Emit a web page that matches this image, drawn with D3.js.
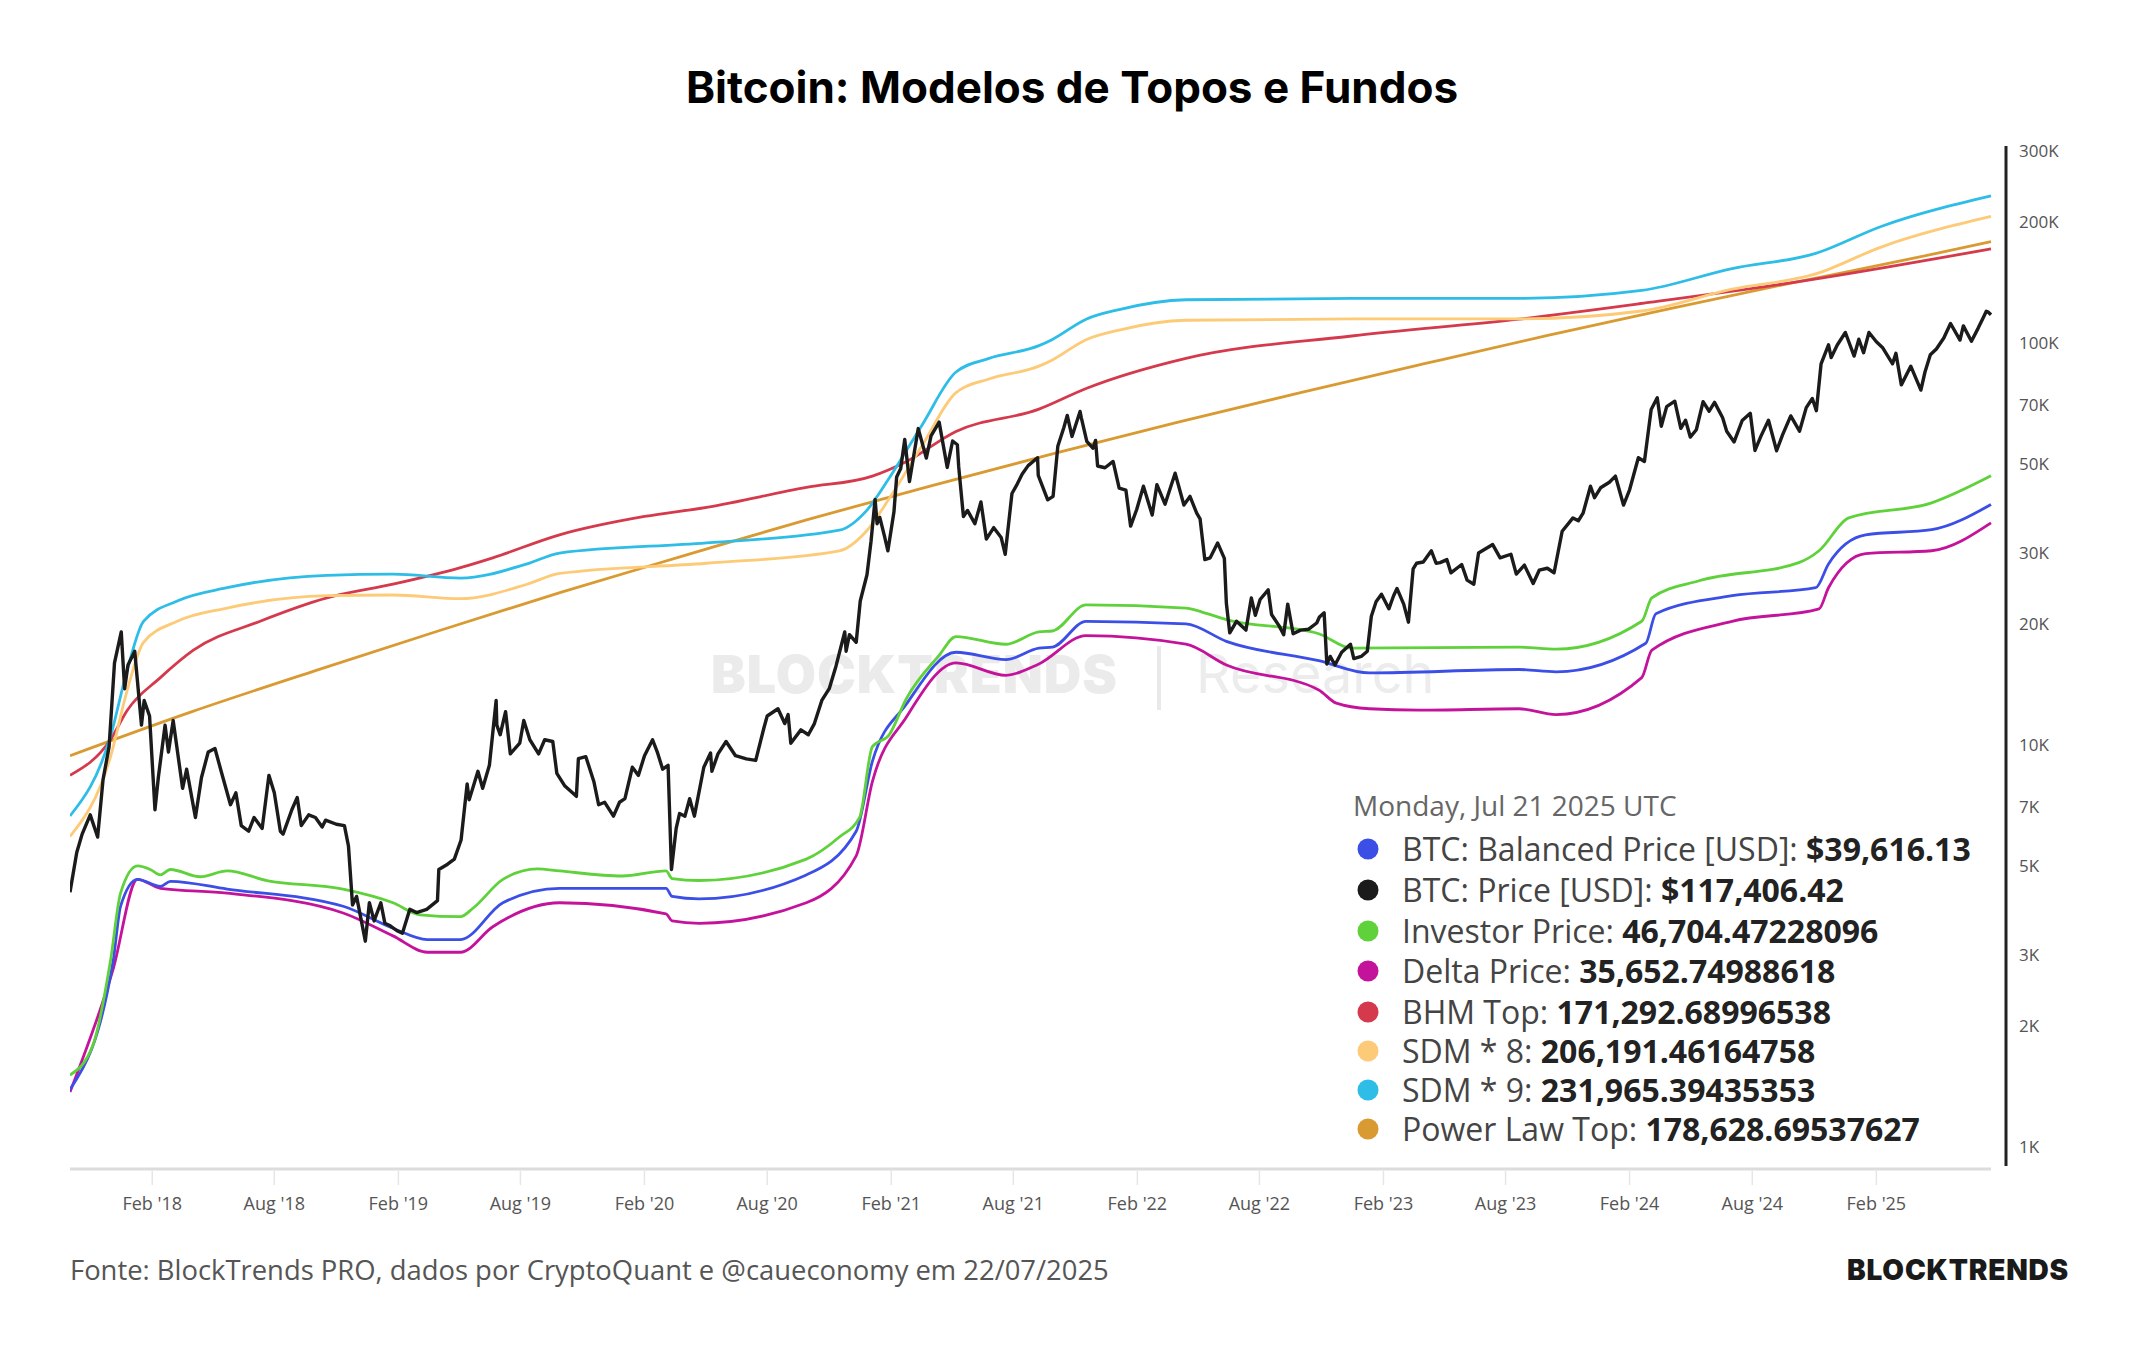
<!DOCTYPE html>
<html>
<head>
<meta charset="utf-8">
<script src="https://cdn.jsdelivr.net/npm/d3@7"></script>
<style>
  html, body { margin: 0; padding: 0; background: #fff; }
  svg { display: block; }
</style>
</head>
<body>
<div id="chart"></div>
<script>
const width = 2144;
const height = 1350;

// plot frame
const plot = { left: 70, right: 1991, top: 146, bottom: 1169 };

// ---- data ----
const startDate = "2017-10-02";
const endDate = "2025-07-21";

const xTickDates = ["2018-02-01", "2018-08-01", "2019-02-01", "2019-08-01", "2020-02-01", "2020-08-01",
  "2021-02-01", "2021-08-01", "2022-02-01", "2022-08-01", "2023-02-01", "2023-08-01",
  "2024-02-01", "2024-08-01", "2025-02-01"];
const yTicks = [1000, 2000, 3000, 5000, 7000, 10000, 20000, 30000, 50000, 70000, 100000, 200000, 300000];

const btcPrice = [
  ["2017-10-02",4300],["2017-10-12",5400],["2017-10-20",6000],["2017-11-01",6700],["2017-11-12",5900],["2017-11-20",8200],
  ["2017-11-29",9900],["2017-12-07",16000],["2017-12-17",19100],["2017-12-22",13800],["2017-12-27",15800],["2018-01-06",17100],
  ["2018-01-16",11200],["2018-01-20",12900],["2018-01-28",11800],["2018-02-05",6900],["2018-02-10",8300],["2018-02-20",11200],
  ["2018-02-25",9600],["2018-03-04",11500],["2018-03-18",7800],["2018-03-24",8700],["2018-04-06",6600],["2018-04-15",8300],
  ["2018-04-25",9600],["2018-05-05",9800],["2018-05-15",8500],["2018-05-28",7100],["2018-06-05",7600],["2018-06-13",6300],
  ["2018-06-24",6100],["2018-07-02",6600],["2018-07-14",6200],["2018-07-24",8400],["2018-08-01",7600],["2018-08-10",6100],
  ["2018-08-14",6000],["2018-08-27",6900],["2018-09-04",7400],["2018-09-10",6300],["2018-09-21",6700],["2018-10-01",6600],
  ["2018-10-11",6250],["2018-10-16",6500],["2018-11-01",6350],["2018-11-13",6300],["2018-11-19",5600],["2018-11-25",4000],
  ["2018-12-01",4200],["2018-12-14",3250],["2018-12-20",4050],["2018-12-27",3650],["2019-01-06",4050],["2019-01-12",3600],
  ["2019-01-20",3550],["2019-01-30",3450],["2019-02-07",3400],["2019-02-18",3900],["2019-02-28",3830],["2019-03-15",3900],
  ["2019-03-31",4100],["2019-04-02",4900],["2019-04-15",5050],["2019-04-25",5200],["2019-05-05",5800],["2019-05-14",8000],
  ["2019-05-17",7300],["2019-05-30",8600],["2019-06-06",7800],["2019-06-16",8900],["2019-06-26",12900],["2019-06-27",11200],
  ["2019-07-02",10600],["2019-07-10",12100],["2019-07-17",9500],["2019-07-31",10100],["2019-08-06",11500],["2019-08-15",10300],
  ["2019-08-28",9500],["2019-09-06",10300],["2019-09-18",10200],["2019-09-24",8500],["2019-10-06",7900],["2019-10-23",7450],
  ["2019-10-26",9250],["2019-11-06",9350],["2019-11-18",8100],["2019-11-25",7100],["2019-12-04",7200],["2019-12-17",6650],
  ["2019-12-26",7200],["2020-01-03",7350],["2020-01-14",8800],["2020-01-23",8400],["2020-02-01",9400],["2020-02-13",10300],
  ["2020-02-20",9600],["2020-02-28",8700],["2020-03-07",8900],["2020-03-12",4900],["2020-03-19",6200],["2020-03-24",6750],
  ["2020-04-01",6650],["2020-04-08",7350],["2020-04-15",6650],["2020-04-29",8800],["2020-05-09",9550],["2020-05-11",8600],
  ["2020-05-20",9500],["2020-06-01",10200],["2020-06-15",9400],["2020-07-01",9230],["2020-07-15",9150],["2020-07-27",11000],
  ["2020-08-01",11800],["2020-08-17",12300],["2020-08-27",11300],["2020-09-01",11900],["2020-09-05",10100],["2020-09-20",10900],
  ["2020-10-01",10600],["2020-10-10",11300],["2020-10-21",12900],["2020-11-01",13800],["2020-11-11",15700],["2020-11-24",19100],
  ["2020-11-26",17100],["2020-12-01",18800],["2020-12-11",18000],["2020-12-17",22800],["2020-12-27",26500],["2021-01-02",32100],
  ["2021-01-08",40800],["2021-01-11",35500],["2021-01-15",36800],["2021-01-22",33000],["2021-01-27",30400],["2021-02-05",38000],
  ["2021-02-09",46400],["2021-02-15",48700],["2021-02-21",57500],["2021-02-28",45200],["2021-03-13",61200],["2021-03-25",51700],
  ["2021-04-01",58700],["2021-04-13",63500],["2021-04-25",49000],["2021-05-03",57000],["2021-05-10",55800],["2021-05-12",49200],
  ["2021-05-19",37000],["2021-05-25",38300],["2021-06-05",35500],["2021-06-14",40200],["2021-06-22",32500],["2021-07-03",34700],
  ["2021-07-14",32800],["2021-07-20",29800],["2021-07-30",42200],["2021-08-07",44600],["2021-08-14",47100],["2021-08-23",49500],
  ["2021-09-06",51800],["2021-09-07",46800],["2021-09-21",40700],["2021-09-29",41500],["2021-10-06",55300],["2021-10-15",61600],
  ["2021-10-20",66000],["2021-10-27",58500],["2021-11-08",67500],["2021-11-10",65000],["2021-11-18",56900],["2021-11-27",54700],
  ["2021-12-01",57200],["2021-12-04",49400],["2021-12-15",48900],["2021-12-27",50700],["2022-01-05",43500],["2022-01-15",43000],
  ["2022-01-22",35000],["2022-01-31",38500],["2022-02-10",44000],["2022-02-23",37300],["2022-03-02",44400],["2022-03-14",39700],
  ["2022-03-29",47400],["2022-04-11",39500],["2022-04-20",41500],["2022-04-30",37700],["2022-05-05",36500],["2022-05-12",28900],
  ["2022-05-20",29200],["2022-05-31",31800],["2022-06-10",29100],["2022-06-13",22500],["2022-06-18",19000],["2022-06-28",20300],
  ["2022-07-12",19300],["2022-07-20",23200],["2022-07-26",21000],["2022-08-02",23000],["2022-08-14",24300],["2022-08-19",21100],
  ["2022-08-30",19800],["2022-09-06",18800],["2022-09-12",22400],["2022-09-20",18900],["2022-10-01",19300],["2022-10-13",19400],
  ["2022-10-25",20100],["2022-10-29",20800],["2022-11-05",21300],["2022-11-09",15900],["2022-11-14",16600],["2022-11-21",15800],
  ["2022-12-01",17000],["2022-12-14",17800],["2022-12-19",16400],["2022-12-30",16600],["2023-01-08",17100],["2023-01-14",20900],
  ["2023-01-21",22700],["2023-01-29",23700],["2023-02-09",21800],["2023-02-16",23500],["2023-02-21",24500],["2023-03-03",22400],
  ["2023-03-10",20200],["2023-03-17",27400],["2023-03-22",28300],["2023-04-01",28500],["2023-04-13",30400],["2023-04-20",28300],
  ["2023-04-26",28400],["2023-05-06",28900],["2023-05-12",26800],["2023-05-28",28100],["2023-06-05",25700],["2023-06-15",25100],
  ["2023-06-22",30000],["2023-07-13",31500],["2023-07-24",29200],["2023-08-09",29800],["2023-08-17",26600],["2023-08-29",28000],
  ["2023-09-11",25200],["2023-09-20",27200],["2023-10-02",27500],["2023-10-12",26800],["2023-10-24",34000],["2023-11-09",36700],
  ["2023-11-17",36100],["2023-11-24",37700],["2023-12-05",44000],["2023-12-11",41200],["2023-12-20",43600],["2024-01-02",45000],
  ["2024-01-11",46600],["2024-01-23",39500],["2024-02-01",43100],["2024-02-14",51800],["2024-02-23",50700],["2024-03-04",68300],
  ["2024-03-13",73000],["2024-03-19",62000],["2024-03-27",69400],["2024-04-08",71600],["2024-04-17",61300],["2024-04-24",64200],
  ["2024-05-01",58300],["2024-05-10",60800],["2024-05-20",71400],["2024-05-29",67600],["2024-06-06",71100],["2024-06-18",65100],
  ["2024-06-24",60300],["2024-07-05",56700],["2024-07-17",64100],["2024-07-29",66800],["2024-08-05",54000],["2024-08-14",58700],
  ["2024-08-25",64200],["2024-09-06",53900],["2024-09-15",59100],["2024-09-27",65800],["2024-10-10",60300],["2024-10-20",69000],
  ["2024-10-29",72700],["2024-11-04",67800],["2024-11-11",88700],["2024-11-22",98900],["2024-11-26",91900],["2024-12-05",98800],
  ["2024-12-17",106100],["2024-12-30",92700],["2025-01-06",102100],["2025-01-13",94500],["2025-01-21",106100],["2025-02-01",100600],
  ["2025-02-10",97400],["2025-02-25",88700],["2025-03-02",94200],["2025-03-10",78600],["2025-03-24",87500],["2025-04-08",76300],
  ["2025-04-14",84500],["2025-04-22",93400],["2025-05-01",96500],["2025-05-12",102800],["2025-05-22",111700],["2025-06-05",101600],
  ["2025-06-10",110200],["2025-06-22",100900],["2025-07-02",108800],["2025-07-10",116000],["2025-07-14",119800],["2025-07-17",119200],
  ["2025-07-21",117400]
];

const investorPrice = [
  ["2017-10-02",1510],["2017-11-05",1790],["2017-12-01",2900],["2017-12-16",4280],["2018-01-10",5000],["2018-01-29",4900],
  ["2018-02-13",4750],["2018-02-28",4900],["2018-04-13",4700],["2018-05-23",4860],["2018-07-21",4600],["2018-11-11",4380],
  ["2019-01-24",4050],["2019-03-05",3780],["2019-05-04",3740],["2019-05-23",3930],["2019-07-06",4630],["2019-08-26",4920],
  ["2019-09-28",4860],["2019-12-30",4720],["2020-03-04",4860],["2020-03-13",4650],["2020-04-22",4600],["2020-09-28",5200],
  ["2020-11-16",5900],["2020-12-16",6600],["2021-01-04",9900],["2021-01-29",10600],["2021-02-23",13000],["2021-04-13",16700],
  ["2021-05-08",18600],["2021-07-21",17800],["2021-09-08",19100],["2021-09-28",19200],["2021-11-17",22300],["2022-04-14",21900],
  ["2022-05-08",21400],["2022-06-13",20500],["2022-10-28",18900],["2022-12-16",17400],["2023-08-21",17500],["2023-10-15",17300],
  ["2024-02-19",20300],["2024-03-05",23200],["2024-05-14",25600],["2024-10-09",28400],["2024-11-08",30400],["2024-12-22",36700],
  ["2025-04-24",40000],["2025-07-21",46704]
];

const balancedPrice = [
  ["2017-10-02",1390],["2017-12-05",2900],["2017-12-16",3970],["2018-01-10",4630],["2018-02-13",4450],["2018-02-28",4580],
  ["2018-05-23",4380],["2018-11-11",3970],["2019-01-24",3500],["2019-03-16",3280],["2019-05-04",3280],["2019-07-06",4050],
  ["2019-09-28",4400],["2020-03-04",4400],["2020-03-13",4200],["2020-04-22",4140],["2020-09-28",4750],["2020-12-11",6100],
  ["2021-01-04",9100],["2021-02-23",12600],["2021-05-08",17000],["2021-07-21",16300],["2021-09-08",17400],["2021-09-28",17500],
  ["2021-11-17",20300],["2022-04-14",20000],["2022-06-13",18100],["2022-10-28",16200],["2023-01-11",15100],["2023-08-21",15400],
  ["2023-10-15",15200],["2024-02-25",17900],["2024-03-11",21200],["2024-07-02",23500],["2024-11-03",24600],["2024-11-22",28200],
  ["2025-01-16",33300],["2025-04-24",34300],["2025-07-21",39616]
];

const deltaPrice = [
  ["2017-10-02",1370],["2017-12-05",2770],["2018-01-10",4630],["2018-02-13",4400],["2018-05-23",4280],["2018-11-11",3820],
  ["2019-01-24",3350],["2019-03-16",3050],["2019-05-04",3050],["2019-06-21",3530],["2019-09-28",4050],["2020-03-04",3800],
  ["2020-03-13",3650],["2020-04-22",3600],["2020-09-28",4050],["2020-12-11",5300],["2021-01-04",8100],["2021-02-23",11700],
  ["2021-05-08",16000],["2021-07-21",14900],["2021-09-08",15900],["2021-11-17",18700],["2022-04-14",17800],["2022-06-13",15800],
  ["2022-10-28",13700],["2022-11-23",12700],["2023-01-11",12300],["2023-03-26",12200],["2023-08-21",12300],["2023-10-15",11900],
  ["2024-02-19",14700],["2024-03-05",17200],["2024-07-02",20300],["2024-11-08",21800],["2024-11-22",24600],["2025-01-16",29900],
  ["2025-04-24",30400],["2025-07-21",35653]
];

const bhmTop = [
  ["2017-10-02",8400],["2017-12-01",10300],["2017-12-26",12200],["2018-02-13",14700],["2018-04-03",17200],["2018-07-11",20300],
  ["2018-10-18",23200],["2019-01-24",25100],["2019-05-04",27600],["2019-06-21",29200],["2019-09-28",33300],["2020-02-01",37000],
  ["2020-05-03",39000],["2020-09-28",43700],["2021-01-04",46600],["2021-02-23",50600],["2021-05-08",60200],["2021-09-08",68400],
  ["2021-11-17",77000],["2022-04-14",91500],["2022-12-16",104000],["2023-08-21",114500],["2024-03-01",126000],["2024-10-09",142000],
  ["2025-07-21",171293]
];

const sdm8 = [
  ["2017-10-02",5920],["2017-12-01",9330],["2017-12-26",13700],["2018-01-19",18000],["2018-03-10",20300],["2018-05-23",21900],
  ["2018-10-18",23500],["2019-01-24",23600],["2019-05-04",23100],["2019-08-11",25100],["2019-09-28",26700],["2020-05-03",28300],
  ["2020-11-16",30400],["2020-12-26",34000],["2021-01-29",41000],["2021-03-19",55600],["2021-05-08",75200],["2021-06-26",81300],
  ["2021-09-08",87500],["2021-09-28",90700],["2021-11-17",101800],["2022-01-05",107600],["2022-04-14",113800],["2022-12-16",114700],
  ["2023-08-21",114700],["2024-02-19",120000],["2024-07-02",136000],["2024-11-03",148400],["2025-02-09",173300],["2025-07-21",206191]
];

const sdm9 = [
  ["2017-10-02",6660],["2017-12-01",10500],["2017-12-26",15400],["2018-01-19",20300],["2018-03-10",22800],["2018-05-23",24600],
  ["2018-10-18",26400],["2019-01-24",26600],["2019-05-04",26000],["2019-08-11",28200],["2019-09-28",30000],["2020-05-03",31800],
  ["2020-11-16",34200],["2020-12-26",38200],["2021-01-29",46100],["2021-03-19",62600],["2021-05-08",84600],["2021-06-26",91500],
  ["2021-09-08",98400],["2021-09-28",102000],["2021-11-17",114500],["2022-01-05",121000],["2022-04-14",128000],["2022-12-16",129000],
  ["2023-08-21",129000],["2024-02-19",135000],["2024-07-02",153000],["2024-11-03",167000],["2025-02-09",195000],["2025-07-21",231965]
];

const powerLawTop = [
  ["2017-10-02",9400],["2018-04-01",12100],["2018-10-01",15300],["2019-04-01",19200],["2019-10-01",24000],["2020-04-01",29600],
  ["2020-10-01",36400],["2021-04-01",44100],["2021-10-01",53100],["2022-04-01",63400],["2022-10-01",75200],["2023-04-01",88600],
  ["2023-10-01",104200],["2024-04-01",121600],["2024-10-01",141200],["2025-04-01",162800],["2025-07-21",178629]
];

// legend text
const legendDate = "Monday, Jul 21 2025 UTC";
const legendNames = ["BTC: Balanced Price [USD]: ", "BTC: Price [USD]: ", "Investor Price: ", "Delta Price: ",
  "BHM Top: ", "SDM * 8: ", "SDM * 9: ", "Power Law Top: "];
const legendValues = ["$39,616.13", "$117,406.42", "46,704.47228096", "35,652.74988618",
  "171,292.68996538", "206,191.46164758", "231,965.39435353", "178,628.69537627"];
const legendColors = ["#3b4ee6", "#1b1b1b", "#5fd13b", "#c4139b", "#d43a4c", "#fdca77", "#2dbde6", "#d99a32"];

// ---- scales ----
const parse = d3.utcParse("%Y-%m-%d");
const x = d3.scaleUtc()
  .domain([parse(startDate), parse(endDate)])
  .range([plot.left, plot.right]);
const y = d3.scaleLog()
  .domain([1000, 300000])
  .range([1147, 151]);

const svg = d3.select("#chart").append("svg")
  .attr("width", width)
  .attr("height", height)
  .style("font-family", "'Open Sans', sans-serif");

svg.append("rect").attr("width", width).attr("height", height).attr("fill", "#fff");

// title
svg.append("text")
  .attr("x", 1072)
  .attr("y", 103)
  .attr("text-anchor", "middle")
  .style("font-family", "Inter, sans-serif")
  .style("font-weight", 700)
  .style("font-size", "44px")
  .attr("fill", "#000")
  .text("Bitcoin: Modelos de Topos e Fundos");

// watermark
const wm = svg.append("g").attr("id", "watermark");
wm.append("text")
  .attr("x", 711).attr("y", 693)
  .style("font-family", "Inter, sans-serif")
  .style("font-weight", 900)
  .style("font-size", "52px")
  .style("letter-spacing", "1px")
  .attr("fill", "#ebebeb")
  .text("BLOCKTRENDS");
wm.append("rect")
  .attr("x", 1157).attr("y", 646).attr("width", 4).attr("height", 64)
  .attr("fill", "#e9e9e9");
wm.append("text")
  .attr("x", 1196).attr("y", 693)
  .style("font-family", "Inter, sans-serif")
  .style("font-weight", 400)
  .style("font-size", "54px")
  .attr("fill", "#ececec")
  .text("Research");

// x axis
const xAxis = svg.append("g").attr("id", "x-axis");
xAxis.append("line")
  .attr("x1", plot.left).attr("x2", plot.right)
  .attr("y1", plot.bottom).attr("y2", plot.bottom)
  .attr("stroke", "#dcdcdc").attr("stroke-width", 3);
const fmtX = d3.utcFormat("%b '%y");
xAxis.selectAll(".tick")
  .data(xTickDates.map(parse))
  .join("g")
  .attr("class", "tick")
  .each(function (d) {
    const g = d3.select(this);
    g.append("line")
      .attr("x1", x(d)).attr("x2", x(d))
      .attr("y1", plot.bottom + 2).attr("y2", plot.bottom + 16)
      .attr("stroke", "#e6e6e6").attr("stroke-width", 1.5);
    g.append("text")
      .attr("x", x(d)).attr("y", 1210)
      .attr("text-anchor", "middle")
      .style("font-size", "18px")
      .attr("fill", "#555")
      .text(fmtX(d));
  });

// y axis (right)
const yAxis = svg.append("g").attr("id", "y-axis");
yAxis.append("line")
  .attr("x1", 2006).attr("x2", 2006)
  .attr("y1", 146).attr("y2", 1166)
  .attr("stroke", "#222").attr("stroke-width", 3);
yAxis.selectAll("text")
  .data(yTicks)
  .join("text")
  .attr("x", 2019)
  .attr("y", d => y(d))
  .attr("dy", "0.35em")
  .style("font-size", "17px")
  .attr("fill", "#555")
  .text(d => (d / 1000) + "K");

// lines
svg.append("clipPath").attr("id", "plot-clip")
  .append("rect")
  .attr("x", plot.left).attr("y", plot.top)
  .attr("width", plot.right - plot.left + 2)
  .attr("height", plot.bottom - plot.top - 2);

const lines = svg.append("g").attr("clip-path", "url(#plot-clip)");

const smooth = d3.line()
  .x(d => x(parse(d[0])))
  .y(d => y(d[1]))
  .curve(d3.curveMonotoneX);
const jagged = d3.line()
  .x(d => x(parse(d[0])))
  .y(d => y(d[1]));

const smoothSeries = [
  { data: powerLawTop, color: legendColors[7] },
  { data: bhmTop, color: legendColors[4] },
  { data: sdm8, color: legendColors[5] },
  { data: sdm9, color: legendColors[6] },
  { data: deltaPrice, color: legendColors[3] },
  { data: balancedPrice, color: legendColors[0] },
  { data: investorPrice, color: legendColors[2] }
];

lines.selectAll(".model")
  .data(smoothSeries)
  .join("path")
  .attr("class", "model")
  .attr("d", d => smooth(d.data))
  .attr("fill", "none")
  .attr("stroke", d => d.color)
  .attr("stroke-width", 2.8)
  .attr("stroke-linejoin", "round");

lines.append("path")
  .datum(btcPrice)
  .attr("d", jagged)
  .attr("fill", "none")
  .attr("stroke", legendColors[1])
  .attr("stroke-width", 3.4)
  .attr("stroke-linejoin", "round");

// legend
const legend = svg.append("g").attr("id", "legend");
legend.append("text")
  .attr("x", 1353).attr("y", 806)
  .attr("dy", "0.35em")
  .style("font-size", "28px")
  .attr("fill", "#666")
  .text(legendDate);

const rowY = [849, 890, 931, 971, 1012, 1051, 1090, 1129];
const rows = legend.selectAll(".row")
  .data(legendNames)
  .join("g")
  .attr("class", "row");
rows.append("circle")
  .attr("cx", 1368)
  .attr("cy", (d, i) => rowY[i])
  .attr("r", 10.5)
  .attr("fill", (d, i) => legendColors[i]);
const rowText = rows.append("text")
  .attr("x", 1402)
  .attr("y", (d, i) => rowY[i])
  .attr("dy", "0.36em")
  .style("font-size", "32px");
rowText.append("tspan")
  .attr("fill", "#444")
  .text(d => d);
rowText.append("tspan")
  .attr("fill", "#222")
  .style("font-weight", 700)
  .text((d, i) => legendValues[i]);

// footer
svg.append("text")
  .attr("x", 70).attr("y", 1270)
  .attr("dy", "0.35em")
  .style("font-size", "27.4px")
  .attr("fill", "#555")
  .text("Fonte: BlockTrends PRO, dados por CryptoQuant e @caueconomy em 22/07/2025");

svg.append("text")
  .attr("x", 2069).attr("y", 1270)
  .attr("dy", "0.35em")
  .attr("text-anchor", "end")
  .style("font-family", "Inter, sans-serif")
  .style("font-weight", 900)
  .style("font-size", "28px")
  .style("letter-spacing", "0.8px")
  .attr("fill", "#1a1a1a")
  .text("BLOCKTRENDS");
</script>
</body>
</html>
